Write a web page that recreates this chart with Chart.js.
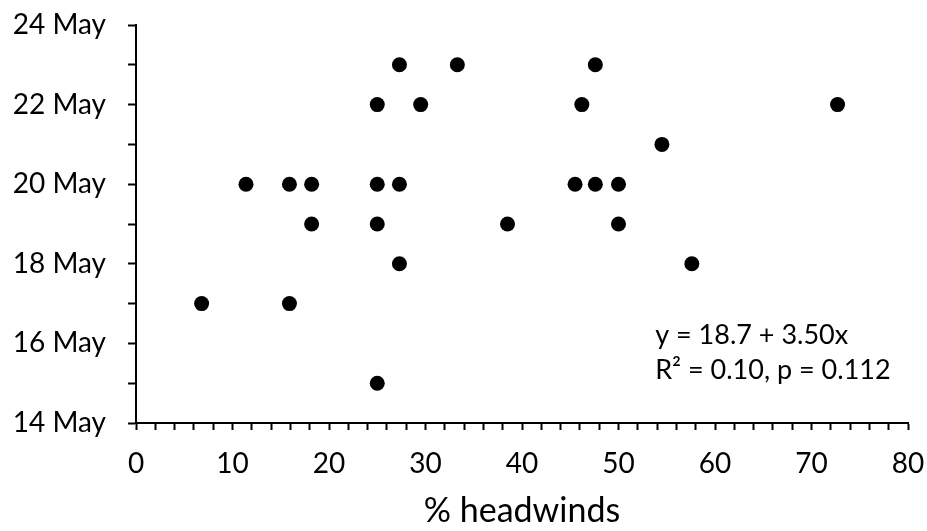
<!DOCTYPE html>
<html>
<head>
<meta charset="utf-8">
<title>Arrival date vs headwinds</title>
<script src="https://cdn.jsdelivr.net/npm/chart.js@4.4.0/dist/chart.umd.min.js"></script>
<style>
  body { margin: 0; background: #fff; }
  #wrap { width: 927px; height: 531px; }
</style>
</head>
<body>
<div id="wrap"><canvas id="headwindChart" width="927" height="531"></canvas></div>
<script>
// % headwinds for each bird (x) and its arrival day in May (y)
const headwinds = [6.8, 11.4, 15.9, 15.9, 18.2, 18.2, 25.0, 25.0, 25.0, 25.0, 27.3, 27.3, 27.3,
  29.5, 33.3, 38.5, 45.5, 46.2, 47.6, 47.6, 50.0, 50.0, 54.5, 57.6, 72.7];
const arrivalDay = [17, 20, 20, 17, 20, 19, 22, 20, 19, 15, 23, 20, 18,
  22, 23, 19, 20, 22, 23, 20, 20, 19, 21, 18, 22];

// axis ticks
const xTickValues = [0, 10, 20, 30, 40, 50, 60, 70, 80];
const yTickValues = [14, 16, 18, 20, 22, 24];
const yTickLabels = ['14 May', '16 May', '18 May', '20 May', '22 May', '24 May'];

// regression text shown inside the plot
const fitLines = ['y = 18.7 + 3.50x', 'R\u00B2 = 0.10, p = 0.112'];
const fitAnchor = { x: 53.8, y: 16.2 };

Chart.defaults.font.family = 'Lato';
Chart.defaults.color = '#000';

function buildPoints() {
  let points = [];
  for (let i = 0; i < headwinds.length; i++) {
    points.push({ x: headwinds[i], y: arrivalDay[i] });
  }
  return points;
}

// writes the regression equation next to the points
const fitTextPlugin = {
  id: 'fitText',
  afterDatasetsDraw(chart) {
    const ctx = chart.ctx;
    const left = chart.scales.x.getPixelForValue(fitAnchor.x);
    const top = chart.scales.y.getPixelForValue(fitAnchor.y);
    ctx.save();
    ctx.fillStyle = '#000';
    ctx.font = '27px Lato';
    ctx.textAlign = 'left';
    ctx.textBaseline = 'middle';
    fitLines.forEach(function(line, i) {
      ctx.fillText(line, left, top + i * 35);
    });
    ctx.restore();
  }
};

const ctx = document.getElementById('headwindChart').getContext('2d');

new Chart(ctx, {
  type: 'scatter',
  data: {
    datasets: [{
      data: buildPoints(),
      backgroundColor: '#000',
      borderColor: '#000',
      borderWidth: 0,
      pointRadius: 7.5,
      pointHoverRadius: 7.5
    }]
  },
  options: {
    responsive: false,
    animation: false,
    layout: { padding: { top: 25, right: 19, left: 0, bottom: 0 } },
    plugins: {
      legend: { display: false },
      tooltip: { enabled: false }
    },
    scales: {
      x: {
        type: 'linear',
        min: 0,
        max: 80,
        afterFit: function(scale) {
          // fixed box so the plot area lines up with the original
          scale.height = 108;
          scale.paddingLeft = 0;
          scale.paddingRight = 0;
        },
        border: { display: true, color: '#000', width: 2 },
        grid: {
          drawOnChartArea: false,
          drawTicks: true,
          tickLength: 7,
          tickColor: '#000',
          tickWidth: 2
        },
        ticks: {
          stepSize: 2,
          autoSkip: false,
          maxRotation: 0,
          minRotation: 0,
          padding: 17,
          font: { size: 28 },
          callback: function(value) {
            return xTickValues.includes(value) ? String(value) : '';
          }
        },
        title: {
          display: true,
          text: '% headwinds',
          font: { size: 34 },
          padding: { top: 0, bottom: 0 }
        }
      },
      y: {
        type: 'linear',
        min: 14,
        max: 24,
        afterFit: function(scale) {
          scale.width = 136;
          scale.paddingTop = 0;
          scale.paddingBottom = 0;
        },
        border: { display: true, color: '#000', width: 2 },
        grid: {
          drawOnChartArea: false,
          drawTicks: true,
          tickLength: 8,
          tickColor: '#000',
          tickWidth: 2
        },
        ticks: {
          stepSize: 1,
          autoSkip: false,
          padding: 22,
          font: { size: 28 },
          callback: function(value) {
            let idx = yTickValues.indexOf(value);
            return idx >= 0 ? yTickLabels[idx] : '';
          }
        }
      }
    }
  },
  plugins: [fitTextPlugin]
});
</script>
</body>
</html>
